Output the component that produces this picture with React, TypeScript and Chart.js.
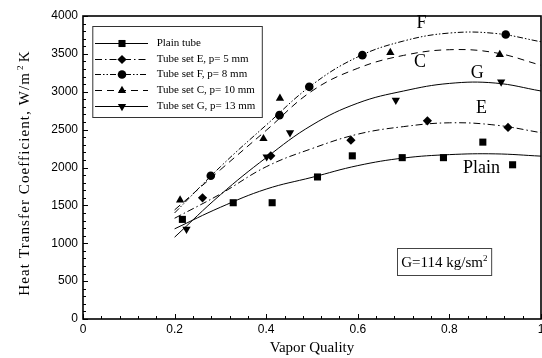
import React, { useEffect, useRef } from 'react';
import { Chart, registerables } from 'chart.js';

Chart.register(...registerables);

// ---------- data ----------
const seriesNames = [
  'Plain tube',
  'Tube set E, p= 5 mm',
  'Tube set F, p= 8 mm',
  'Tube set C, p= 10 mm',
  'Tube set G, p= 13 mm',
];

// measured points
const plainX = [0.217, 0.328, 0.413, 0.512, 0.588, 0.697, 0.787, 0.873, 0.938];
const plainY = [1315, 1535, 1535, 1875, 2154, 2130, 2130, 2335, 2036];
const eX = [0.261, 0.41, 0.585, 0.752, 0.928];
const eY = [1600, 2154, 2361, 2616, 2529];
const fX = [0.279, 0.429, 0.494, 0.61, 0.923];
const fY = [1891, 2691, 3065, 3483, 3756];
const cX = [0.212, 0.394, 0.43, 0.671, 0.91];
const cY = [1570, 2380, 2912, 3518, 3492];
const gX = [0.226, 0.401, 0.452, 0.683, 0.913];
const gY = [1187, 2141, 2460, 2889, 3131];

// fitted curves
const curveX = [0.2, 0.3, 0.4, 0.5, 0.6, 0.7, 0.8, 0.9, 1.0];
const plainCurve = [1190, 1475, 1715, 1870, 2025, 2125, 2170, 2180, 2150];
const eCurve = [1330, 1650, 2010, 2250, 2440, 2540, 2590, 2560, 2460];
const fCurve = [1400, 2010, 2560, 3090, 3460, 3670, 3775, 3770, 3660];
const cCurve = [1440, 1970, 2490, 3010, 3310, 3480, 3555, 3515, 3350];
const gCurve = [1080, 1640, 2130, 2560, 2850, 3010, 3110, 3115, 3010];

// axis
const xMin = 0, xMax = 1, xStep = 0.2, xMinorStep = 0.04;
const yMin = 0, yMax = 4000, yStep = 500, yMinorStep = 100;
const xTitle = 'Vapor Quality';
const yTitleMain = 'Heat Transfer Coefficient, W/m';
const yTitleSup = '2';
const yTitleEnd = 'K';

// curve labels (in data units)
const curveLabels = ['F', 'C', 'G', 'E', 'Plain'];
const curveLabelX = [0.739, 0.736, 0.861, 0.87, 0.87];
const curveLabelY = [3900, 3395, 3241, 2780, 1988];

// condition box
const conditionText = 'G=114 kg/sm';
const conditionSup = '2';
const conditionX = 0.789;
const conditionY = 758;

// ---------- styles ----------
const SERIF = '"Liberation Serif", "Times New Roman", serif';
const SANS = '"Liberation Sans", Arial, sans-serif';

type Sty = { dash: number[]; point: string; rot: number; r: number };
const styles: Sty[] = [
  { dash: [], point: 'rect', rot: 0, r: 5 },
  { dash: [7, 3, 1.5, 3], point: 'rectRot', rot: 0, r: 4.6 },
  { dash: [6, 2, 1.5, 2, 1.5, 2], point: 'circle', rot: 0, r: 4.3 },
  { dash: [7, 5], point: 'triangle', rot: 0, r: 4.8 },
  { dash: [], point: 'triangle', rot: 180, r: 4.8 },
];

function drawMarker(ctx: CanvasRenderingContext2D, s: Sty, x: number, y: number) {
  ctx.save();
  ctx.fillStyle = '#000';
  ctx.setLineDash([]);
  ctx.beginPath();
  const r = s.r;
  if (s.point === 'rect') {
    const h = r * Math.SQRT1_2;
    ctx.rect(x - h, y - h, 2 * h, 2 * h);
  } else if (s.point === 'rectRot') {
    ctx.moveTo(x, y - r);
    ctx.lineTo(x + r, y);
    ctx.lineTo(x, y + r);
    ctx.lineTo(x - r, y);
    ctx.closePath();
  } else if (s.point === 'circle') {
    ctx.arc(x, y, r, 0, Math.PI * 2);
  } else {
    const a0 = (s.rot * Math.PI) / 180;
    for (let i = 0; i < 3; i++) {
      const t = a0 + (i * 2 * Math.PI) / 3;
      const px = x + Math.sin(t) * r;
      const py = y - Math.cos(t) * r;
      if (i === 0) ctx.moveTo(px, py);
      else ctx.lineTo(px, py);
    }
    ctx.closePath();
  }
  ctx.fill();
  ctx.restore();
}

const decorPlugin = {
  id: 'decor',
  afterDraw(chart: any) {
    const ctx: CanvasRenderingContext2D = chart.ctx;
    const a = chart.chartArea;
    const xs = chart.scales.x;
    const ys = chart.scales.y;
    ctx.save();
    ctx.setLineDash([]);
    ctx.strokeStyle = '#000';

    // inward ticks
    ctx.lineWidth = 1;
    const nY = Math.round((yMax - yMin) / yMinorStep);
    for (let k = 0; k <= nY; k++) {
      const v = yMin + k * yMinorStep;
      const py = Math.round(ys.getPixelForValue(v)) + 0.5;
      const len = v % yStep === 0 ? 5 : 3;
      ctx.beginPath();
      ctx.moveTo(a.left, py);
      ctx.lineTo(a.left + len, py);
      ctx.stroke();
    }
    const nX = Math.round((xMax - xMin) / xMinorStep);
    const per = Math.round(xStep / xMinorStep);
    for (let k = 0; k <= nX; k++) {
      const v = xMin + k * xMinorStep;
      const px = Math.round(xs.getPixelForValue(v)) + 0.5;
      const len = k % per === 0 ? 5 : 3;
      ctx.beginPath();
      ctx.moveTo(px, a.bottom);
      ctx.lineTo(px, a.bottom - len);
      ctx.stroke();
    }

    // frame
    ctx.lineWidth = 1.6;
    ctx.strokeRect(a.left, a.top, a.right - a.left, a.bottom - a.top);

    // legend
    const lx = a.left + 9.3;
    const ly = a.top + 10;
    const lw = 169.5;
    const lh = 91;
    ctx.fillStyle = '#fff';
    ctx.fillRect(lx, ly, lw, lh);
    ctx.lineWidth = 1;
    ctx.strokeStyle = '#333';
    ctx.strokeRect(lx + 0.5, ly + 0.5, lw, lh);
    ctx.font = `11px ${SERIF}`;
    ctx.textBaseline = 'middle';
    ctx.textAlign = 'left';
    seriesNames.forEach((name, i) => {
      const ry = Math.round(ly + 17 + i * 15.7) + 0.5;
      ctx.strokeStyle = '#000';
      ctx.lineWidth = 1;
      ctx.setLineDash(styles[i].dash);
      ctx.beginPath();
      ctx.moveTo(lx + 2.7, ry);
      ctx.lineTo(lx + 55.7, ry);
      ctx.stroke();
      ctx.setLineDash([]);
      drawMarker(ctx, styles[i], lx + 29.7, ry);
      ctx.fillStyle = '#000';
      ctx.fillText(name, lx + 64.4, ry);
    });

    // curve labels
    ctx.font = `18px ${SERIF}`;
    ctx.textAlign = 'center';
    ctx.textBaseline = 'middle';
    ctx.fillStyle = '#000';
    curveLabels.forEach((t, i) => {
      ctx.fillText(t, xs.getPixelForValue(curveLabelX[i]), ys.getPixelForValue(curveLabelY[i]));
    });

    // condition box
    ctx.font = `15px ${SERIF}`;
    const wMain = ctx.measureText(conditionText).width;
    ctx.font = `9px ${SERIF}`;
    const wSup = ctx.measureText(conditionSup).width;
    const tw = wMain + wSup;
    const cxp = xs.getPixelForValue(conditionX);
    const cyp = ys.getPixelForValue(conditionY);
    const bw = tw + 8;
    const bh = 27;
    const bx = Math.round(cxp - bw / 2) + 0.5;
    const by = Math.round(cyp - bh / 2) + 0.5;
    ctx.fillStyle = '#fff';
    ctx.fillRect(bx, by, bw, bh);
    ctx.strokeStyle = '#444';
    ctx.lineWidth = 1;
    ctx.strokeRect(bx, by, bw, bh);
    ctx.fillStyle = '#000';
    ctx.textAlign = 'left';
    ctx.textBaseline = 'alphabetic';
    ctx.font = `15px ${SERIF}`;
    const tx = cxp - tw / 2;
    const base = cyp + 5;
    ctx.fillText(conditionText, tx, base);
    ctx.font = `9px ${SERIF}`;
    ctx.fillText(conditionSup, tx + wMain, base - 6);

    // y title, rotated
    ctx.save();
    ctx.translate(24, 173);
    ctx.rotate(-Math.PI / 2);
    (ctx as any).letterSpacing = '1.1px';
    ctx.font = `15px ${SERIF}`;
    const w1 = ctx.measureText(yTitleMain).width;
    const w3 = ctx.measureText(yTitleEnd).width;
    ctx.font = `9px ${SERIF}`;
    const w2 = ctx.measureText(yTitleSup).width;
    const gap = 2;
    const total = w1 + gap + w2 + gap + w3;
    let ux = -total / 2;
    ctx.textAlign = 'left';
    ctx.textBaseline = 'alphabetic';
    ctx.fillStyle = '#000';
    ctx.font = `15px ${SERIF}`;
    ctx.fillText(yTitleMain, ux, 5);
    ux += w1 + gap;
    ctx.font = `9px ${SERIF}`;
    ctx.fillText(yTitleSup, ux, -1);
    ux += w2 + gap;
    ctx.font = `15px ${SERIF}`;
    ctx.fillText(yTitleEnd, ux, 5);
    ctx.restore();

    ctx.restore();
  },
};

export default function App() {
  const ref = useRef<HTMLCanvasElement | null>(null);

  useEffect(() => {
    document.body.style.margin = '0';
    const canvas = ref.current;
    if (!canvas) return;

    const curveSets = [plainCurve, eCurve, fCurve, cCurve, gCurve];
    const markerSets: [number[], number[]][] = [
      [plainX, plainY],
      [eX, eY],
      [fX, fY],
      [cX, cY],
      [gX, gY],
    ];

    const datasets: any[] = [
      ...curveSets.map((ys, i) => ({
        label: seriesNames[i] + ' (fit)',
        data: curveX.map((x, j) => ({ x, y: ys[j] })),
        borderColor: '#000',
        borderWidth: 1,
        borderDash: styles[i].dash,
        pointRadius: 0,
        tension: 0.4,
        fill: false,
      })),
      ...markerSets.map(([xs, ys], i) => ({
        label: seriesNames[i],
        data: xs.map((x, j) => ({ x, y: ys[j] })),
        showLine: false,
        pointStyle: styles[i].point,
        pointRotation: styles[i].rot,
        pointRadius: styles[i].r,
        pointBackgroundColor: '#000',
        pointBorderColor: '#000',
        pointBorderWidth: 0,
      })),
    ];

    const chart = new Chart(canvas, {
      type: 'line',
      data: { datasets },
      plugins: [decorPlugin],
      options: {
        animation: false,
        responsive: false,
        maintainAspectRatio: false,
        events: [],
        layout: { autoPadding: false, padding: { left: 0, right: 1, top: 16, bottom: 0 } },
        plugins: { legend: { display: false }, tooltip: { enabled: false } },
        scales: {
          x: {
            type: 'linear',
            min: xMin,
            max: xMax,
            grid: { display: false, drawTicks: false },
            border: { display: false },
            ticks: {
              stepSize: xStep,
              padding: 3,
              color: '#000',
              font: { family: SANS, size: 12 },
              maxRotation: 0,
              callback: (v: any) => String(Math.round(Number(v) * 10) / 10),
            },
            title: {
              display: true,
              text: xTitle,
              color: '#000',
              font: { family: SERIF, size: 15 },
              padding: { top: 0, bottom: 1 },
            },
            afterFit: (s: any) => {
              s.height = 39;
              s.paddingLeft = 0;
              s.paddingRight = 0;
            },
          },
          y: {
            type: 'linear',
            min: yMin,
            max: yMax,
            grid: { display: false, drawTicks: false },
            border: { display: false },
            ticks: {
              stepSize: yStep,
              padding: 5,
              color: '#000',
              font: { family: SANS, size: 12 },
              callback: (v: any) => String(Number(v)),
            },
            afterFit: (s: any) => {
              s.width = 83;
              s.paddingTop = 0;
              s.paddingBottom = 0;
            },
          },
        },
      } as any,
    });

    return () => chart.destroy();
  }, []);

  return (
    <canvas
      ref={ref}
      width={542}
      height={358}
      style={{ display: 'block', width: 542, height: 358 }}
    />
  );
}
